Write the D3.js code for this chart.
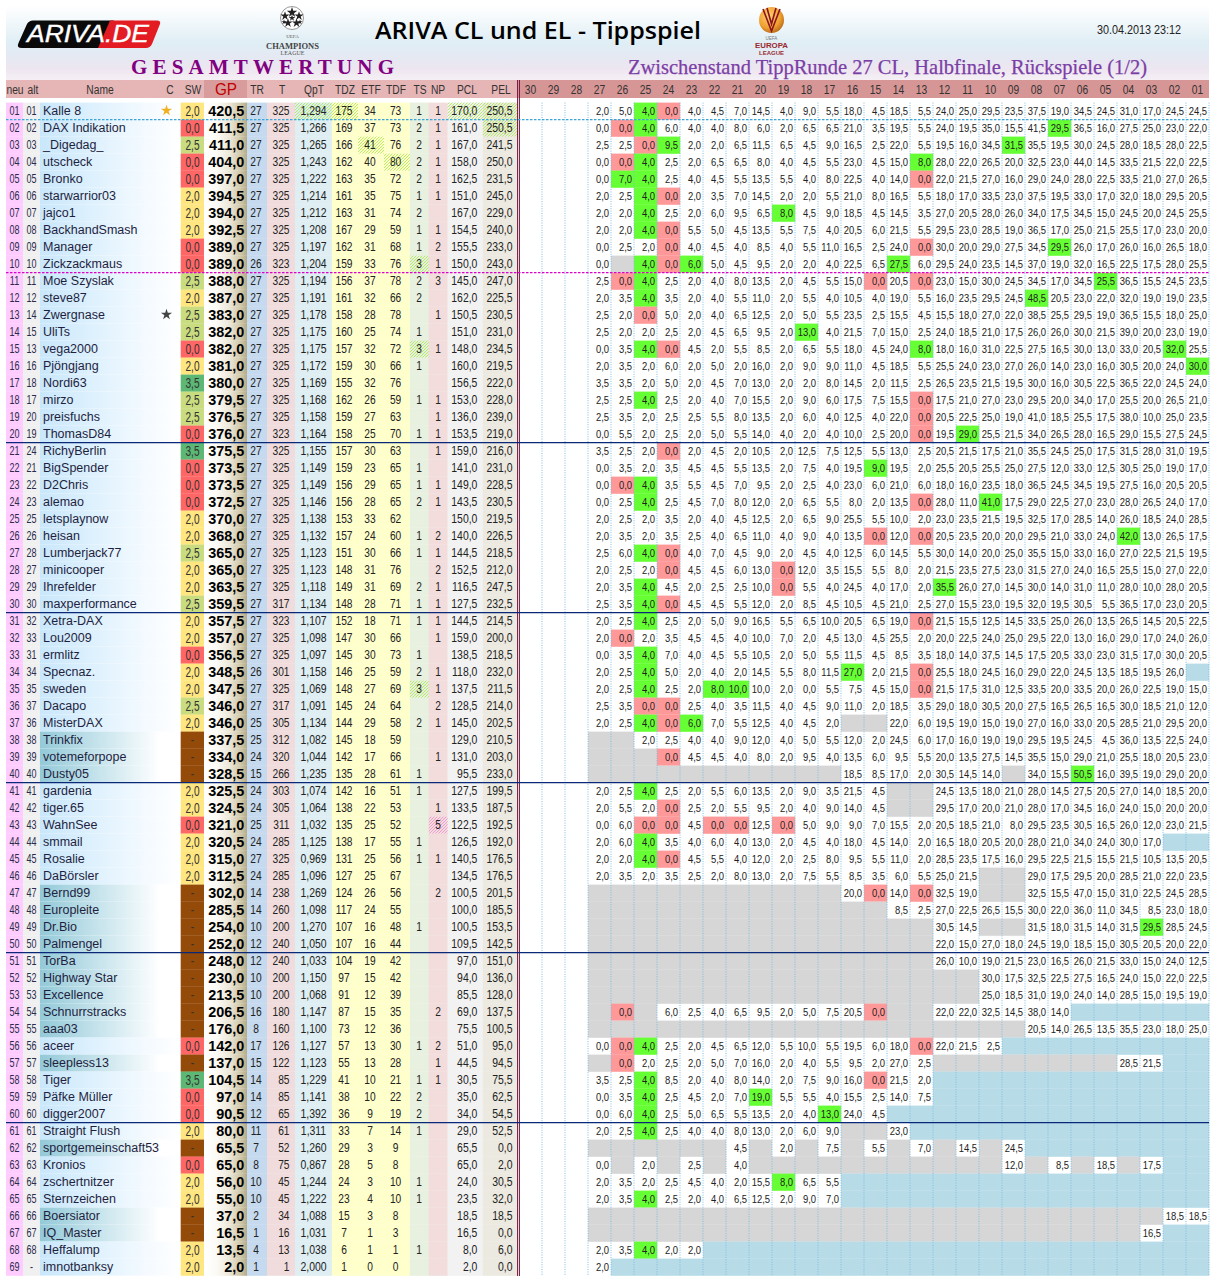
<!DOCTYPE html>
<html><head><meta charset="utf-8">
<style>html,body{margin:0;padding:0;background:#fff}svg{display:block}</style>
<script src="https://cdn.jsdelivr.net/npm/d3@7"></script></head><body><div id="c"></div>
<script>
const oldRank=["01","02","03","04","05","06","07","08","09","10","11","12","14","15","13","16","18","17","20","19","24","21","22","23","25","26","28","27","29","30","32","33","31","34","35","37","36","38","39","40","41","42","43","44","45","46","47","48","49","50","51","52","53","54","55","56","57","58","59","60","61","62","63","64","65","66","67","68","-"];
const names=["Kalle 8","DAX Indikation","_Digedag_","utscheck","Bronko","starwarrior03","jajco1","BackhandSmash","Manager","Zickzackmaus","Moe Szyslak","steve87","Zwergnase","UliTs","vega2000","Pjöngjang","Nordi63","mirzo","preisfuchs","ThomasD84","RichyBerlin","BigSpender","D2Chris","alemao","letsplaynow","heisan","Lumberjack77","minicooper","Ihrefelder","maxperformance","Xetra-DAX","Lou2009","ermlitz","Specnaz.","sweden","Dacapo","MisterDAX","Trinkfix","votemeforpope","Dusty05","gardenia","tiger.65","WahnSee","smmail","Rosalie","DaBörsler","Bernd99","Europleite","Dr.Bio","Palmengel","TorBa","Highway Star","Excellence","Schnurrstracks","aaa03","aceer","sleepless13","Tiger","Päfke Müller","digger2007","Straight Flush","sportgemeinschaft53","Kronios","zschertnitzer","Sternzeichen","Boersiator","IQ_Master","Heffalump","imnotbanksy"];
const sw=["2,0","0,0","2,5","0,0","0,0","2,0","2,0","2,0","0,0","0,0","2,5","2,0","2,5","2,5","0,0","2,0","3,5","2,5","2,5","0,0","3,5","0,0","0,0","0,0","2,0","2,0","2,5","2,0","2,0","2,5","2,0","2,0","0,0","2,0","2,0","2,5","2,0","-","-","-","2,0","2,0","0,0","2,0","2,0","2,0","-","-","-","-","-","-","-","-","-","0,0","-","3,5","0,0","0,0","2,0","-","0,0","2,0","2,0","-","-","2,0","2,0"];
const gp=["420,5","411,5","411,0","404,0","397,0","394,5","394,0","392,5","389,0","389,0","388,0","387,0","383,0","382,0","382,0","381,0","380,0","379,5","376,5","376,0","375,5","373,5","373,5","372,5","370,0","368,0","365,0","365,0","363,5","359,5","357,5","357,0","356,5","348,5","347,5","346,0","346,0","337,5","334,0","328,5","325,5","324,5","321,0","320,5","315,0","312,5","302,0","285,5","254,0","252,0","248,0","230,0","213,5","206,5","176,0","142,0","137,0","104,5","97,0","90,5","80,0","65,5","65,0","56,0","55,0","37,0","16,5","13,5","2,0"];
const tr=[27,27,27,27,27,27,27,27,27,26,27,27,27,27,27,27,27,27,27,27,27,27,27,27,27,27,27,27,27,27,27,27,27,26,27,27,25,25,24,15,24,24,25,24,27,24,14,14,10,12,12,10,10,16,8,17,15,14,14,12,11,7,8,10,10,2,1,4,1];
const tips=[325,325,325,325,325,325,325,325,325,323,325,325,325,325,325,325,325,325,325,323,325,325,325,325,325,325,325,325,325,317,323,325,325,301,325,317,305,312,320,266,303,305,311,285,325,285,238,260,200,240,240,200,200,180,160,126,122,85,85,65,61,52,75,45,45,34,16,13,1];
const qpt=["1,294","1,266","1,265","1,243","1,222","1,214","1,212","1,208","1,197","1,204","1,194","1,191","1,178","1,175","1,175","1,172","1,169","1,168","1,158","1,164","1,155","1,149","1,149","1,146","1,138","1,132","1,123","1,123","1,118","1,134","1,107","1,098","1,097","1,158","1,069","1,091","1,134","1,082","1,044","1,235","1,074","1,064","1,032","1,125","0,969","1,096","1,269","1,098","1,270","1,050","1,033","1,150","1,068","1,147","1,100","1,127","1,123","1,229","1,141","1,392","1,311","1,260","0,867","1,244","1,222","1,088","1,031","1,038","2,000"];
const tdz=[175,169,166,162,163,161,163,167,162,159,156,161,158,160,157,159,155,162,159,158,157,159,156,156,153,157,151,148,149,148,152,147,145,146,148,145,144,145,142,135,142,138,135,138,131,127,124,117,107,107,104,97,91,87,73,57,55,41,38,36,33,29,28,24,23,15,7,6,1];
const etf=[34,37,41,40,35,35,31,29,31,33,37,32,28,25,32,30,32,26,27,25,30,23,29,28,33,24,30,31,31,28,18,30,30,25,27,24,29,18,17,28,16,22,25,17,25,25,26,24,16,16,19,15,12,15,12,13,13,10,10,9,7,3,5,3,4,3,1,1,0];
const tdf=[73,73,76,80,72,75,74,59,68,76,78,66,78,74,72,66,76,59,63,70,63,65,65,65,62,60,66,76,69,71,71,66,73,59,69,64,58,59,66,61,51,53,52,55,56,67,56,55,48,44,42,42,39,35,36,30,28,21,22,19,14,9,8,10,10,8,3,1,0];
const ts=[1,2,2,2,2,1,2,1,1,3,2,2,"",1,3,1,"",1,"",1,"",1,1,2,"",1,1,"",2,1,1,"",1,2,3,"",2,"","",1,1,"","",1,1,"","","",1,"","","","","","",1,"",1,2,2,1,"","",1,1,"","",1,""];
const np=[1,1,1,1,1,1,"",1,2,1,3,"",1,"",1,"","",1,1,1,1,"",1,1,"",2,1,2,1,1,1,1,"",1,1,2,1,"",1,"","",1,5,"",1,"",2,"","","","","","",2,"",2,1,1,"","","","","","","","","","",""];
const pcl=["170,0","161,0","167,0","158,0","162,5","151,0","167,0","154,5","155,5","150,0","145,0","162,0","150,5","151,0","148,0","160,0","156,5","153,0","136,0","153,5","159,0","141,0","149,0","143,5","150,0","140,0","144,5","152,5","116,5","127,5","144,5","159,0","138,5","118,0","137,5","128,5","145,0","129,0","131,0","95,5","127,5","133,5","122,5","126,5","140,5","134,5","100,5","100,0","100,5","109,5","97,0","94,0","85,5","69,0","75,5","51,0","44,5","30,5","35,0","34,0","29,0","65,5","65,0","24,0","23,5","18,5","16,5","8,0","2,0"];
const pel=["250,5","250,5","241,5","250,0","231,5","245,0","229,0","240,0","233,0","243,0","247,0","225,5","230,5","231,0","234,5","219,5","222,0","228,0","239,0","219,0","216,0","231,0","228,5","230,5","219,5","226,5","218,5","212,0","247,5","232,5","214,5","200,0","218,5","232,0","211,5","214,0","202,5","210,5","203,0","233,0","199,5","187,5","192,5","192,0","176,5","176,5","201,5","185,5","153,5","142,5","151,0","136,0","128,0","137,5","100,5","95,0","94,5","75,5","62,5","54,5","52,5","0,0","2,0","30,5","32,0","18,5","0,0","6,0","0,0"];
const roundLabels=["30","29","28","27","26","25","24","23","22","21","20","19","18","17","16","15","14","13","12","11","10","09","08","07","06","05","04","03","02","01"];
// round scores, columns 27..01; "+" best of round, "-" worst, gN = N grey cells, bN = N blue cells
const roundRows=[
"2,0 5,0 4,0+ 0,0- 4,0 4,5 7,0 14,5 4,0 9,0 5,5 18,0 4,5 18,5 5,5 24,0 25,0 29,5 23,5 37,5 19,0 34,5 24,5 31,0 17,0 24,5 24,5",
"0,0 0,0- 4,0+ 6,0 4,0 4,0 8,0 6,0 2,0 6,5 6,5 21,0 3,5 19,5 5,5 24,0 19,5 35,0 15,5 41,5 29,5+ 36,5 16,0 27,5 25,0 23,0 22,0",
"2,5 2,5 0,0- 9,5+ 2,0 2,0 6,5 11,5 6,5 4,5 9,0 16,5 2,5 22,0 5,5 19,5 16,0 34,5 31,5+ 35,5 19,5 30,0 24,5 28,0 18,5 28,0 22,5",
"0,0 0,0- 4,0+ 2,5 2,0 6,5 6,5 8,0 4,0 4,5 5,5 23,0 4,5 15,0 8,0+ 28,0 22,0 26,5 20,0 32,5 23,0 44,0 14,5 33,5 21,5 22,0 22,5",
"0,0 7,0+ 4,0+ 2,5 4,0 4,5 5,5 13,5 5,5 4,0 8,0 22,5 4,0 14,0 0,0- 22,0 21,5 27,0 16,0 29,0 24,0 28,0 22,5 33,5 21,0 27,0 26,5",
"2,0 2,5 4,0+ 0,0- 2,0 3,5 7,0 14,5 2,0 2,0 5,5 21,0 8,0 16,5 5,5 18,0 17,0 33,5 23,0 37,5 19,5 33,0 17,0 32,0 18,0 29,5 20,5",
"2,0 2,0 4,0+ 2,5 2,0 6,0 9,5 6,5 8,0+ 4,5 9,0 18,5 4,5 14,5 3,5 27,0 20,5 28,0 26,0 34,0 17,5 34,5 15,0 24,5 20,0 24,5 25,5",
"2,0 2,0 4,0+ 0,0- 5,5 5,0 4,5 13,5 5,5 7,5 4,0 20,5 6,0 21,5 5,5 29,5 23,0 28,5 19,0 36,5 17,0 25,0 21,5 25,5 17,0 23,0 20,0",
"0,0 2,5 2,0 0,0- 4,0 4,5 4,0 8,5 4,0 5,5 11,0 16,5 2,5 24,0 0,0- 30,0 20,0 29,0 27,5 34,5 29,5+ 26,0 17,0 26,0 16,0 26,5 18,0",
"0,0 g1 4,0+ 0,0- 6,0+ 5,0 4,5 9,5 2,0 2,0 4,0 22,5 6,5 27,5+ 6,0 29,5 24,0 23,5 14,5 37,0 19,0 32,0 16,5 22,5 17,5 28,0 25,5",
"2,5 0,0- 4,0+ 2,5 2,0 4,0 8,0 13,5 2,0 4,5 5,5 15,0 0,0- 20,5 0,0- 23,0 15,0 30,0 24,5 34,5 17,0 34,5 25,5+ 36,5 15,5 24,5 23,5",
"2,0 3,5 4,0+ 3,5 2,0 4,0 5,5 11,0 2,0 5,5 4,0 10,5 4,0 19,0 5,5 16,0 23,5 29,5 24,5 48,5+ 20,5 23,0 22,0 32,0 19,0 19,0 23,5",
"2,5 2,0 0,0- 5,0 2,0 4,0 6,5 12,5 2,0 5,0 5,5 23,5 2,5 15,5 4,5 15,5 18,0 27,0 22,0 38,5 25,5 29,5 19,0 36,5 15,5 18,0 25,0",
"2,5 2,0 2,0 2,5 2,0 4,5 6,5 9,5 2,0 13,0+ 4,0 21,5 7,0 15,0 2,5 24,0 18,5 21,0 17,5 26,0 26,0 30,0 21,5 39,0 20,0 23,0 19,0",
"0,0 3,5 4,0+ 0,0- 4,5 2,0 5,5 8,5 2,0 6,5 5,5 18,0 4,5 24,0 8,0+ 18,0 16,0 31,0 22,5 27,5 16,5 30,0 13,0 33,0 20,5 32,0+ 25,5",
"2,0 3,5 2,0 6,0 2,0 5,0 2,0 16,0 2,0 9,0 9,0 11,0 4,5 18,5 5,5 25,5 24,0 23,0 27,0 26,0 14,0 23,0 16,0 30,5 20,0 24,0 30,0+",
"3,5 3,5 2,0 5,0 2,0 4,5 7,0 13,0 2,0 2,0 8,0 14,5 2,0 11,5 2,5 26,5 23,5 21,5 19,5 30,0 16,0 30,5 22,5 36,5 22,0 24,5 24,0",
"2,5 2,5 4,0+ 2,5 2,0 4,0 7,0 15,5 2,0 9,0 6,0 17,5 7,5 15,5 0,0- 17,5 21,0 27,0 23,0 29,5 20,0 34,0 17,0 25,5 20,0 26,5 21,0",
"2,5 3,5 2,0 2,5 2,5 5,5 8,0 13,5 2,0 6,0 4,0 12,5 4,0 22,0 0,0- 20,5 22,5 25,0 19,0 41,0 18,5 25,5 17,5 38,0 10,0 25,0 23,5",
"0,0 5,5 2,0 2,5 2,0 5,0 5,5 14,0 4,0 2,0 4,0 10,0 2,5 20,0 0,0- 19,5 29,0+ 25,5 21,5 34,0 26,5 28,0 16,5 29,0 15,5 27,5 24,5",
"3,5 2,5 2,0 0,0- 2,0 4,5 2,0 10,5 2,0 12,5 7,5 12,5 5,5 13,0 2,5 20,5 21,5 17,5 21,0 35,5 24,5 25,0 17,5 31,5 28,0 31,0 19,5",
"0,0 3,5 2,0 3,5 4,5 4,5 5,5 13,5 2,0 7,5 4,0 19,5 9,0+ 19,5 2,0 25,5 20,5 25,5 25,0 27,5 12,0 33,0 12,5 30,5 25,0 19,0 17,0",
"0,0 0,0- 4,0+ 3,5 5,5 4,5 7,0 9,5 2,0 2,5 4,0 23,0 6,0 21,0 6,0 18,0 16,0 23,5 18,0 36,5 24,5 34,5 19,5 27,5 16,0 20,5 20,5",
"0,0 2,5 4,0+ 2,5 4,5 7,0 8,0 12,0 2,0 6,5 5,5 8,0 2,0 13,5 0,0- 28,0 11,0 41,0+ 17,5 29,0 22,5 27,0 23,0 28,0 26,5 24,0 17,0",
"2,0 2,5 2,0 3,5 2,0 4,0 4,5 12,5 2,0 6,5 9,0 25,5 5,5 10,0 2,0 23,0 23,5 21,5 19,5 32,5 17,0 28,5 14,0 26,0 18,5 24,0 28,5",
"2,0 3,5 2,0 3,5 2,5 4,0 6,5 11,0 4,0 9,0 4,0 13,5 0,0- 12,0 0,0- 20,5 23,5 20,0 20,0 29,5 21,0 33,0 24,0 42,0+ 13,0 26,5 17,5",
"2,5 6,0 4,0+ 0,0- 4,0 7,0 4,5 9,0 2,0 4,5 4,0 12,5 6,0 14,5 5,5 30,0 14,0 20,0 25,0 35,5 15,0 33,0 16,0 27,0 22,5 21,5 19,5",
"2,0 2,5 2,0 0,0- 4,5 4,5 6,0 13,0 0,0- 12,0 3,5 15,5 5,5 8,0 2,0 21,5 23,5 27,5 23,0 31,5 27,0 24,0 16,5 25,5 15,0 27,0 22,0",
"2,0 3,5 4,0+ 4,5 2,0 2,5 2,5 10,0 0,0- 5,5 4,0 24,5 4,0 17,0 2,0 35,5+ 26,0 27,0 14,5 30,0 14,0 31,0 11,0 28,0 10,0 28,0 20,5",
"2,5 3,5 4,0+ 0,0- 4,5 4,5 5,5 12,0 2,0 8,5 4,5 10,5 4,5 21,0 2,5 27,0 15,5 23,0 19,5 32,0 19,5 30,5 5,5 36,5 17,0 23,0 20,5",
"2,0 2,5 4,0+ 2,5 2,0 5,0 9,0 16,5 5,5 6,5 10,0 20,5 6,5 19,0 0,0- 21,5 15,5 12,5 14,5 33,5 25,0 26,0 13,5 26,5 14,5 20,5 22,5",
"2,0 0,0- 2,0 3,5 4,5 4,5 4,0 10,0 7,0 2,0 4,5 13,0 4,5 25,5 2,0 20,0 22,5 24,0 25,0 29,5 22,0 13,0 16,0 29,0 17,0 24,0 26,0",
"0,0 3,5 4,0+ 7,0 4,0 4,5 5,5 10,5 2,0 5,0 5,5 11,5 4,5 8,5 3,5 18,0 14,0 37,5 14,5 17,5 20,5 33,0 23,0 31,5 17,0 30,0 20,5",
"2,0 2,5 4,0+ 5,0 2,0 4,0 2,0 14,5 5,5 8,0 11,5 27,0+ 2,0 21,5 0,0- 25,5 18,0 24,5 16,0 29,0 22,0 24,5 13,5 18,5 19,5 26,0 b1",
"2,0 2,5 4,0+ 2,5 2,0 8,0+ 10,0+ 10,0 2,0 0,0 5,5 7,5 4,5 15,0 0,0- 21,5 17,5 31,0 12,5 33,5 20,0 33,5 20,0 26,0 22,5 19,0 15,0",
"2,5 3,5 0,0- 0,0- 2,5 4,0 3,5 11,5 4,0 4,5 9,0 11,0 2,0 18,5 3,5 29,0 18,0 30,5 20,0 27,5 16,5 26,5 16,5 30,0 18,5 21,0 12,0",
"2,0 2,5 4,0+ 0,0- 6,0+ 7,0 5,5 12,5 4,0 4,5 2,0 g2 22,0 6,0 19,5 19,0 15,0 19,0 27,0 16,0 33,0 20,5 28,5 21,0 29,5 20,0",
"g2 2,0 2,5 4,0 4,0 9,0 12,0 4,0 5,0 5,5 12,0 2,0 24,5 6,0 17,0 16,0 19,0 19,0 29,5 19,5 24,5 4,5 36,0 13,5 22,5 24,0",
"g3 0,0- 4,5 4,5 4,0 8,0 2,0 9,5 4,0 13,5 6,0 9,5 5,5 20,0 13,5 27,5 14,5 35,5 15,0 29,0 21,0 25,5 18,0 20,5 23,0",
"g11 18,5 8,5 17,0 2,0 30,5 14,5 14,0 g1 34,0 15,5 50,5+ 16,0 39,5 19,0 29,0 20,0",
"2,0 2,5 4,0+ 2,5 2,0 5,5 6,0 13,5 2,0 9,0 3,5 21,5 4,5 g2 24,5 13,5 18,0 21,0 28,0 14,5 27,5 20,5 27,0 14,0 18,5 20,0",
"2,0 5,5 2,0 0,0- 2,5 2,0 5,5 9,5 2,0 4,0 9,0 14,0 4,5 g2 29,5 17,0 20,0 21,0 28,0 17,0 34,5 16,0 24,0 15,0 20,0 20,0",
"0,0 6,0 0,0- 0,0- 4,5 0,0- 0,0- 12,5 0,0- 5,0 9,0 9,0 7,0 15,5 2,0 20,5 18,5 21,0 8,0 29,5 23,5 30,5 16,5 26,0 12,0 23,0 21,5",
"2,0 6,0 4,0+ 3,5 4,0 6,0 4,0 13,0 2,0 4,5 4,0 18,0 4,5 14,0 2,0 16,5 18,0 20,5 20,0 28,0 21,0 34,0 24,0 30,0 17,0 b2",
"2,0 2,0 4,0+ 0,0- 4,5 5,5 4,0 12,0 2,0 2,5 8,0 9,5 5,5 11,0 2,0 28,5 23,5 17,5 16,0 29,5 22,5 21,5 15,5 21,5 10,5 13,5 20,5",
"2,0 3,5 2,0 3,5 2,5 2,0 8,0 13,0 2,0 7,5 5,5 8,5 3,5 6,0 5,5 25,0 21,5 g2 29,0 17,5 29,5 20,0 28,5 21,0 22,0 23,5",
"g11 20,0 0,0- 14,0 0,0- 32,5 19,0 g2 32,5 15,5 47,0 15,0 31,0 22,5 24,5 28,5",
"g13 8,5 2,5 27,0 22,5 26,5 15,5 30,0 22,0 36,0 11,0 34,5 8,5 23,0 18,0",
"g15 30,5 14,5 g2 31,5 18,0 31,5 14,0 31,5 29,5+ 28,5 24,5",
"g15 22,0 15,0 27,0 18,0 24,5 19,0 18,5 15,0 30,5 20,5 20,0 22,0",
"g15 26,0 10,0 19,0 21,5 23,0 16,5 26,0 21,5 33,0 15,0 24,0 12,5",
"g17 30,0 17,5 32,5 22,5 27,5 16,5 24,0 15,0 22,0 22,5",
"g17 25,0 18,5 31,0 19,0 24,0 14,0 28,5 15,0 19,5 19,0",
"g1 0,0- g1 6,0 2,5 4,0 6,5 9,5 2,0 5,0 7,5 20,5 0,0- g2 22,0 22,0 32,5 14,5 38,0 14,0 b6",
"g19 20,5 14,0 26,5 13,5 35,5 23,0 18,0 25,0",
"0,0 0,0- 4,0+ 2,5 2,0 4,5 6,5 12,0 5,5 10,0 5,5 19,5 6,0 18,0 0,0- 22,0 21,5 2,5 b9",
"g1 0,0- 2,0 2,5 2,0 5,0 7,0 16,0 2,0 4,0 5,5 9,5 2,0 27,0 2,5 g8 28,5 21,5 b2",
"3,5 2,5 4,0+ 8,5 2,0 4,0 8,0 14,0 2,0 7,5 9,0 16,0 0,0- 21,5 2,0 b12",
"0,0 3,5 4,0+ 2,5 4,5 2,0 7,0 19,0+ 5,5 5,5 4,0 15,5 2,5 14,0 7,5 b12",
"0,0 6,0 4,0+ 2,5 5,0 6,5 5,5 13,5 2,0 4,0 13,0+ 24,0 4,5 b14",
"2,0 2,5 4,0+ 2,5 4,0 4,0 8,0 13,0 2,0 6,0 9,0 g2 23,0 b13",
"g6 4,5 g1 2,0 g1 7,5 g1 5,5 g1 7,0 g1 14,5 g1 24,5 b8",
"0,0 g1 2,0 g1 2,5 g1 4,0 g11 12,0 g1 8,5 g1 18,5 g1 17,5 b2",
"2,0 3,5 2,0 2,5 4,5 4,0 2,0 15,5 8,0+ 6,5 5,5 b16",
"2,0 3,5 4,0+ 2,5 2,0 4,0 6,5 12,5 2,0 9,0 7,0 b16",
"g25 18,5 18,5",
"g24 16,5 b2",
"2,0 3,5 4,0+ 2,0 2,0 b22",
"2,0 b26"];
const hatchCells=[[0,"qpt"],[0,"tdz"],[0,"pcl"],[0,"pel"],[1,"pel"],[2,"etf"],[3,"tdf"],[9,"ts"],[14,"ts"],[34,"ts"],[42,"np"]];
const starRows=[0,12];
const starColors=["#f0b020","#444444"];
const headerLabels=["neu","alt","Name","C","SW","GP","TR","T","QpT","TDZ","ETF","TDF","TS","NP","PCL","PEL"];
const dividerAfter=[1,10,20,30,40,50,60];

// layout
const W=1215,H=1276,TOP=102.6,ROWH=17;
const y=d3.scaleBand().domain(d3.range(names.length)).range([TOP,TOP+ROWH*names.length]);
const xr=d3.scaleBand().domain(roundLabels).range([519,1209]);
const svg=d3.select("#c").append("svg").attr("width",W).attr("height",H).attr("font-family","'Liberation Sans',Arial,sans-serif");
const defs=svg.append("defs");
function lin(id,x1,x2,stops){const g=defs.append("linearGradient").attr("id",id).attr("gradientUnits","userSpaceOnUse").attr("x1",x1).attr("x2",x2).attr("y1",0).attr("y2",0);
 stops.forEach(s=>g.append("stop").attr("offset",s[0]).attr("stop-color",s[1]));}
lin("nameG",39.5,181,[[0,"#c9e7fb"],[.35,"#dcf0fd"],[.75,"#f4faff"],[1,"#ffffff"]]);
lin("nameT",39.5,160,[[0,"#93c9d8"],[.45,"#c2e1ea"],[.85,"#eef7fa"],[1,"#ffffff"]]);
lin("gpG",204,247,[[0,"#ffffff"],[.3,"#fbfaf5"],[.6,"#ebe6d6"],[.85,"#cfc7a9"],[1,"#b5ab88"]]);
const bandG=defs.append("linearGradient").attr("id","band").attr("x1",0).attr("x2",0).attr("y1",0).attr("y2",1);
[[0,"#ffffff"],[.5,"#dfeef5"],[.72,"#e6e8f2"],[.86,"#eee6f0"],[1,"#f5f0f5"]].forEach(s=>bandG.append("stop").attr("offset",s[0]).attr("stop-color",s[1]));
function hatch(id,c){const p=defs.append("pattern").attr("id",id).attr("patternUnits","userSpaceOnUse").attr("width",3).attr("height",3);
 p.append("path").attr("d","M-1,1L1,-1M0,3L3,0M2,4L4,2").attr("stroke",c).attr("stroke-width",.8);}
hatch("hG","#a8e84a");hatch("hP","#f08cd0");

const cols=[
 {k:"neu",a:6,b:23,get:(d,i)=>String(i+1).padStart(2,"0"),pos:14.5,an:"middle",sx:.72,fs:12.5,fill:"#2a2a4a",bg:"#ffccff"},
 {k:"alt",a:23,b:39.5,get:(d,i)=>oldRank[i],pos:31.5,an:"middle",sx:.72,fs:12.5,fill:"#2a2a4a",bg:"#f0f0f0"},
 {k:"sw",a:180.7,b:204,get:(d,i)=>sw[i],pos:192.5,an:"middle",sx:.72,fs:14,fill:"#333",bg:null},
 {k:"gp",a:204,b:247,get:(d,i)=>gp[i],pos:244.3,an:"end",sx:.93,fs:15.5,fill:"#000",bg:"url(#gpG)",w:"bold"},
 {k:"tr",a:247,b:267,get:(d,i)=>tr[i],pos:256,an:"middle",sx:.85,fs:12,fill:"#222",bg:"#c5d9ef"},
 {k:"t",a:267,b:295,get:(d,i)=>tips[i],pos:289.5,an:"end",sx:.85,fs:12,fill:"#222",bg:"#f0dcdc"},
 {k:"qpt",a:295,b:331.8,get:(d,i)=>qpt[i],pos:313.5,an:"middle",sx:.87,fs:12,fill:"#222",bg:"#deeef2"},
 {k:"tdz",a:331.8,b:358,get:(d,i)=>tdz[i],pos:344,an:"middle",sx:.85,fs:12,fill:"#222",bg:"#ffffcc"},
 {k:"etf",a:358,b:384,get:(d,i)=>etf[i],pos:370,an:"middle",sx:.85,fs:12,fill:"#222",bg:"#ffffcc"},
 {k:"tdf",a:384,b:409.8,get:(d,i)=>tdf[i],pos:395.6,an:"middle",sx:.85,fs:12,fill:"#222",bg:"#ffffcc"},
 {k:"ts",a:409.8,b:428.7,get:(d,i)=>ts[i],pos:419,an:"middle",sx:.85,fs:12,fill:"#222",bg:"#e8f0e0"},
 {k:"np",a:428.7,b:447.6,get:(d,i)=>np[i],pos:438,an:"middle",sx:.85,fs:12,fill:"#222",bg:"#f2dcdc"},
 {k:"pcl",a:447.6,b:482.8,get:(d,i)=>pcl[i],pos:477.4,an:"end",sx:.87,fs:12,fill:"#222",bg:"#f2f2f2"},
 {k:"pel",a:482.8,b:517,get:(d,i)=>pel[i],pos:512.5,an:"end",sx:.87,fs:12,fill:"#222",bg:"#ebe9e0"}
];
const swColor=d3.scaleOrdinal().domain(["2,0","0,0","2,5","3,5","-"]).range(["#ffe680","#ff6666","#c9dc80","#5cb874","#944a08"]);
function tx(sel,x,yy,str,o){return sel.append("text").attr("transform",`translate(${x},${yy}) scale(${o.sx||1},1)`).attr("text-anchor",o.an||"middle").attr("font-size",o.fs||12).attr("font-weight",o.w||null).attr("fill",o.fill||"#222").text(str);}

// top band & header
svg.append("rect").attr("x",6).attr("y",6).attr("width",1203).attr("height",74).attr("fill","url(#band)");
svg.append("rect").attr("x",6).attr("y",80).attr("width",513).attr("height",18).attr("fill","#e6b5b5");
svg.append("rect").attr("x",204).attr("y",80).attr("width",43).attr("height",18).attr("fill","#d99c9c");
svg.append("rect").attr("x",519).attr("y",80).attr("width",690).attr("height",18).attr("fill","#d79696");
const hx=[15,33,100,170,193,226,257,282,314,345,371,396,420,438,467,501];
const hHead=svg.append("g");
headerLabels.forEach((l,i)=>{ if(l==="GP")tx(hHead,hx[i],94.5,l,{fs:17,sx:.9,fill:"#c00000"}); else tx(hHead,hx[i],93.5,l,{fs:12.5,sx:.82,fill:"#333"}); });
hHead.selectAll("text.r").data(roundLabels).join("text").attr("class","r").attr("transform",d=>`translate(${xr(d)+xr.bandwidth()/2},93.5) scale(.82,1)`).attr("text-anchor","middle").attr("font-size",12.5).attr("fill","#333").text(d=>d);

// titles
svg.append("text").attr("x",375).attr("y",38.5).attr("font-size",24).attr("font-weight",600).attr("fill","#000").attr("font-family","'Open Sans',sans-serif").attr("textLength",326).attr("lengthAdjust","spacingAndGlyphs").text("ARIVA CL und EL - Tippspiel");
svg.append("text").attr("x",131).attr("y",73.5).attr("font-size",21).attr("font-weight","bold").attr("fill","#800080").attr("font-family","'Liberation Serif',serif").attr("textLength",263).attr("lengthAdjust","spacing").text("GESAMTWERTUNG");
svg.append("text").attr("x",628).attr("y",73.5).attr("font-size",21).attr("fill","#7a3fa6").attr("stroke","#7a3fa6").attr("stroke-width",.25).attr("font-family","'Liberation Serif',serif").attr("textLength",519).attr("lengthAdjust","spacingAndGlyphs").text("Zwischenstand TippRunde 27 CL, Halbfinale, Rückspiele (1/2)");
svg.append("text").attr("x",1097).attr("y",33.5).attr("font-size",12).attr("fill","#222").attr("textLength",84).attr("lengthAdjust","spacingAndGlyphs").text("30.04.2013 23:12");

// ARIVA logo
const lg=svg.append("g");
lg.append("path").attr("d","M31,20.5 H114 L102,48 H22 Q16,48 18.5,43 L27,24 Q29,20.5 33,20.5 Z").attr("fill","#0a0a0a");
lg.append("path").attr("d","M110,20.5 H157 Q161,20.5 160,24 L152,44 Q150,48 146,48 H98 Z").attr("fill","#e31b23");
lg.append("text").attr("x",27).attr("y",42).attr("font-size",24).attr("font-style","italic").attr("fill","#fff").attr("stroke","#fff").attr("stroke-width",.4).attr("textLength",122).attr("lengthAdjust","spacingAndGlyphs").text("ARIVA.DE");

// Champions League logo
const cl=svg.append("g");
cl.append("circle").attr("cx",292).attr("cy",18).attr("r",11.5).attr("fill","#fff").attr("stroke","#555").attr("stroke-width",.6);
[[292,12.5,34],[285,16,26],[299,16,26],[288,23,26],[296.5,23,26],[292,18,14],[284,22,8],[300,22,8]].forEach(s=>cl.append("path").attr("d",d3.symbol(d3.symbolStar,s[2])()).attr("transform",`translate(${s[0]},${s[1]})`).attr("fill","#222"));
cl.append("text").attr("x",292.5).attr("y",38).attr("text-anchor","middle").attr("font-size",5).attr("fill","#555").attr("font-family","'Liberation Serif',serif").text("UEFA");
cl.append("text").attr("x",292.5).attr("y",48.5).attr("text-anchor","middle").attr("font-size",8.5).attr("font-weight","bold").attr("fill","#444").attr("textLength",53).attr("lengthAdjust","spacingAndGlyphs").attr("font-family","'Liberation Serif',serif").text("CHAMPIONS");
cl.append("text").attr("x",292.5).attr("y",55).attr("text-anchor","middle").attr("font-size",6).attr("fill","#555").attr("font-family","'Liberation Serif',serif").text("LEAGUE");

// Europa League logo
const elR=defs.append("radialGradient").attr("id","elBall").attr("cx",.4).attr("cy",.35).attr("r",.75);
[[0,"#ffd070"],[.6,"#f0a030"],[1,"#a85a10"]].forEach(s=>elR.append("stop").attr("offset",s[0]).attr("stop-color",s[1]));
const el=svg.append("g");
el.append("ellipse").attr("cx",771.5).attr("cy",20).attr("rx",12.5).attr("ry",13).attr("fill","url(#elBall)");
el.append("path").attr("d","M763,9 L771.5,31 L780,9 M767,8 L771.5,24 L776,8").attr("fill","none").attr("stroke","#8a1420").attr("stroke-width",1.6);
el.append("text").attr("x",771.5).attr("y",40).attr("text-anchor","middle").attr("font-size",4.5).attr("fill","#777").text("UEFA");
el.append("text").attr("x",771.5).attr("y",48).attr("text-anchor","middle").attr("font-size",8).attr("font-weight","bold").attr("fill","#9a2a30").attr("textLength",33).attr("lengthAdjust","spacingAndGlyphs").text("EUROPA");
el.append("text").attr("x",771.5).attr("y",54.5).attr("text-anchor","middle").attr("font-size",6).attr("font-weight","bold").attr("fill","#9a2a30").text("LEAGUE");

// left table
const rows=names.map((n,i)=>i);
const ty=i=>y(i)+ROWH/2+4.3;
const bg=svg.append("g");
bg.selectAll("rect.name").data(rows).join("rect").attr("class","name").attr("x",39.5).attr("y",i=>y(i)).attr("width",141.2).attr("height",ROWH).attr("fill",i=>sw[i]==="-"?"url(#nameT)":"url(#nameG)");
cols.forEach(c=>{
 bg.selectAll("rect."+c.k).data(rows).join("rect").attr("class",c.k).attr("x",c.a).attr("y",i=>y(i)).attr("width",c.b-c.a+.3).attr("height",ROWH+.2).attr("fill",i=>c.bg||swColor(sw[i]));
});
hatchCells.forEach(h=>{const c=cols.find(o=>o.k===h[1]);
 bg.append("rect").attr("x",c.a).attr("y",y(h[0])).attr("width",c.b-c.a).attr("height",ROWH).attr("fill",h[1]==="np"?"url(#hP)":"url(#hG)");
});
const fg=svg.append("g");
cols.forEach(c=>{
 fg.selectAll("text."+c.k).data(rows).join("text").attr("class",c.k)
  .attr("transform",i=>`translate(${c.pos},${ty(i)+(c.k==="gp"?.8:c.k==="sw"?.8:0)}) scale(${c.sx},1)`)
  .attr("text-anchor",c.an).attr("font-size",c.fs).attr("font-weight",c.w||null).attr("fill",c.fill).text(i=>c.get(null,i));
});
fg.selectAll("text.nm").data(rows).join("text").attr("class","nm").attr("x",43).attr("y",i=>ty(i)).attr("font-size",12.5).attr("fill","#1f1f3f").text(i=>names[i]);
fg.selectAll("path.star").data(starRows).join("path").attr("class","star").attr("d",d3.symbol(d3.symbolStar,38)()).attr("transform",d=>`translate(166.5,${y(d)+ROWH/2-.5})`).attr("fill",(d,i)=>starColors[i]);

// round cells
const cells=[];
roundRows.forEach((s,r)=>{let ci=3;s.split(" ").forEach(tok=>{const m=tok.match(/^([gb])(\d+)$/);
 if(m){for(let k=0;k<+m[2];k++)cells.push({r,c:ci++,state:m[1],v:""});}
 else{const st=tok.endsWith("+")?"+":tok.endsWith("-")?"-":"";cells.push({r,c:ci++,state:st,v:tok.replace(/[+-]$/,"")});}
});});
const fillOf=d3.scaleOrdinal().domain(["g","b","+","-"]).range(["#d6d6d6","#b7dce8","#66ff33","#ff9999"]);
const g2=svg.append("g");
g2.selectAll("rect").data(cells.filter(d=>d.state)).join("rect").attr("x",d=>xr(roundLabels[d.c])).attr("y",d=>y(d.r)).attr("width",xr.bandwidth()+.2).attr("height",ROWH+.2).attr("fill",d=>fillOf(d.state));
// column separators
g2.selectAll("line").data(roundLabels).join("line").attr("x1",d=>xr(d)+xr.bandwidth()).attr("x2",d=>xr(d)+xr.bandwidth()).attr("y1",TOP).attr("y2",H).attr("stroke","#7fbde0").attr("stroke-width",1).attr("stroke-dasharray","1 1.4");
g2.selectAll("text").data(cells.filter(d=>d.v)).join("text").attr("transform",d=>`translate(${xr(roundLabels[d.c])+21},${ty(d.r)}) scale(.8,1)`).attr("text-anchor","end").attr("font-size",11.8).attr("fill","#222").text(d=>d.v);

// maroon separator
[517.6,519.4].forEach(x=>svg.append("line").attr("x1",x).attr("x2",x).attr("y1",80).attr("y2",H).attr("stroke","#6e1038").attr("stroke-width",1));

// dividers
const dv=svg.append("g");
dv.selectAll("line").data(dividerAfter).join("line").attr("x1",6).attr("x2",1209).attr("y1",d=>y(d-1)+ROWH).attr("y2",d=>y(d-1)+ROWH)
 .attr("stroke",d=>d===1?"#3aa5d8":d===10?"#dd00cc":"#0a2878").attr("stroke-width",d=>d<=10?1.2:1.4).attr("stroke-dasharray",d=>d===1?"2.5 1.5":d===10?"2.5 1.5":null);
</script></body></html>
